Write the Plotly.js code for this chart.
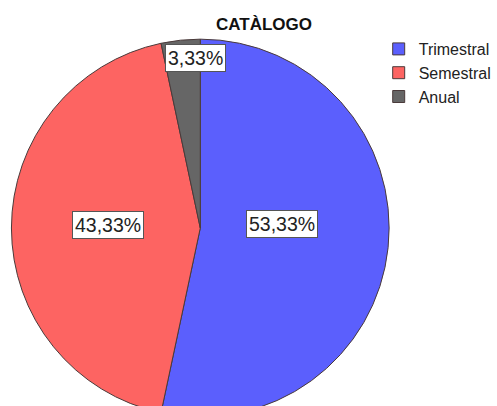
<!DOCTYPE html>
<html>
<head>
<meta charset="utf-8">
<script src="https://cdn.plot.ly/plotly-3.0.1.min.js"></script>
<style>
html,body{margin:0;padding:0;overflow:hidden;background:#fff;}
#chart{width:497px;height:430px;}
</style>
</head>
<body>
<div id="chart"></div>
<script>
// ---- data ----
const chartTitle = "CATÀLOGO";
const categories = ["Trimestral", "Semestral", "Anual"];
const counts = [16, 13, 1];          // 53,33% / 43,33% / 3,33%
const sliceColors = ["#5b5ffd", "#fd6462", "#666666"];

// ---- style / geometry ----
const W = 497, H = 430;
const domX = [11.5 / W, 391.5 / W];
const domY = [12 / H, 392 / H];
const labelRadius = [0.43, 0.49, 0.9];   // radial fraction for label boxes
const labelXShift = [1, 0, 13];
const labelYShift = [13, 3, 0];

const total = counts.reduce((a, b) => a + b, 0);
const cxPx = (domX[0] + domX[1]) / 2 * W;
const cyPx = (domY[0] + domY[1]) / 2 * H;   // from bottom
const rPx = Math.min((domX[1] - domX[0]) * W, (domY[1] - domY[0]) * H) / 2;

const fmt = v => (v * 100).toFixed(2).replace(".", ",") + "%";

let cum = 0;
const annotations = counts.map((c, i) => {
  const mid = (cum + c / 2) / total * 2 * Math.PI; // clockwise from 12 o'clock
  cum += c;
  const x = (cxPx + labelRadius[i] * rPx * Math.sin(mid)) / W;
  const y = (cyPx + labelRadius[i] * rPx * Math.cos(mid)) / H;
  return {
    x: x, y: y, xref: "paper", yref: "paper",
    xanchor: "center", yanchor: "middle",
    text: fmt(c / total), showarrow: false,
    xshift: labelXShift[i], yshift: labelYShift[i],
    font: {family: "Liberation Sans, Arial, sans-serif", size: 19.5, color: "#222"},
    bgcolor: "#ffffff", bordercolor: "#555555", borderwidth: 1, borderpad: 2
  };
});

const trace = {
  type: "pie",
  labels: categories,
  values: counts,
  sort: false,
  direction: "clockwise",
  rotation: 0,
  textinfo: "none",
  hoverinfo: "label+percent",
  domain: {x: domX, y: domY},
  marker: {colors: sliceColors, line: {color: "#4a3a3a", width: 1}}
};

const layout = {
  width: W, height: H,
  margin: {l: 0, r: 0, t: 0, b: 0},
  paper_bgcolor: "#ffffff",
  separators: ",.",
  font: {family: "Liberation Sans, Arial, sans-serif", color: "#222"},
  title: {
    text: "<b>" + chartTitle + "</b>",
    x: 264 / W, xanchor: "center",
    y: 1 - 24 / H, yanchor: "middle", yref: "container",
    font: {family: "Liberation Sans, Arial, sans-serif", size: 17, color: "#111"}
  },
  showlegend: true,
  legend: {
    x: 381 / W, xanchor: "left",
    y: 1 - 32 / H, yanchor: "top",
    bgcolor: "rgba(0,0,0,0)", borderwidth: 0,
    font: {family: "Liberation Sans, Arial, sans-serif", size: 16, color: "#222"},
    traceorder: "normal"
  },
  annotations: annotations
};

Plotly.newPlot("chart", [trace], layout, {displayModeBar: false, staticPlot: true});
</script>
</body>
</html>
